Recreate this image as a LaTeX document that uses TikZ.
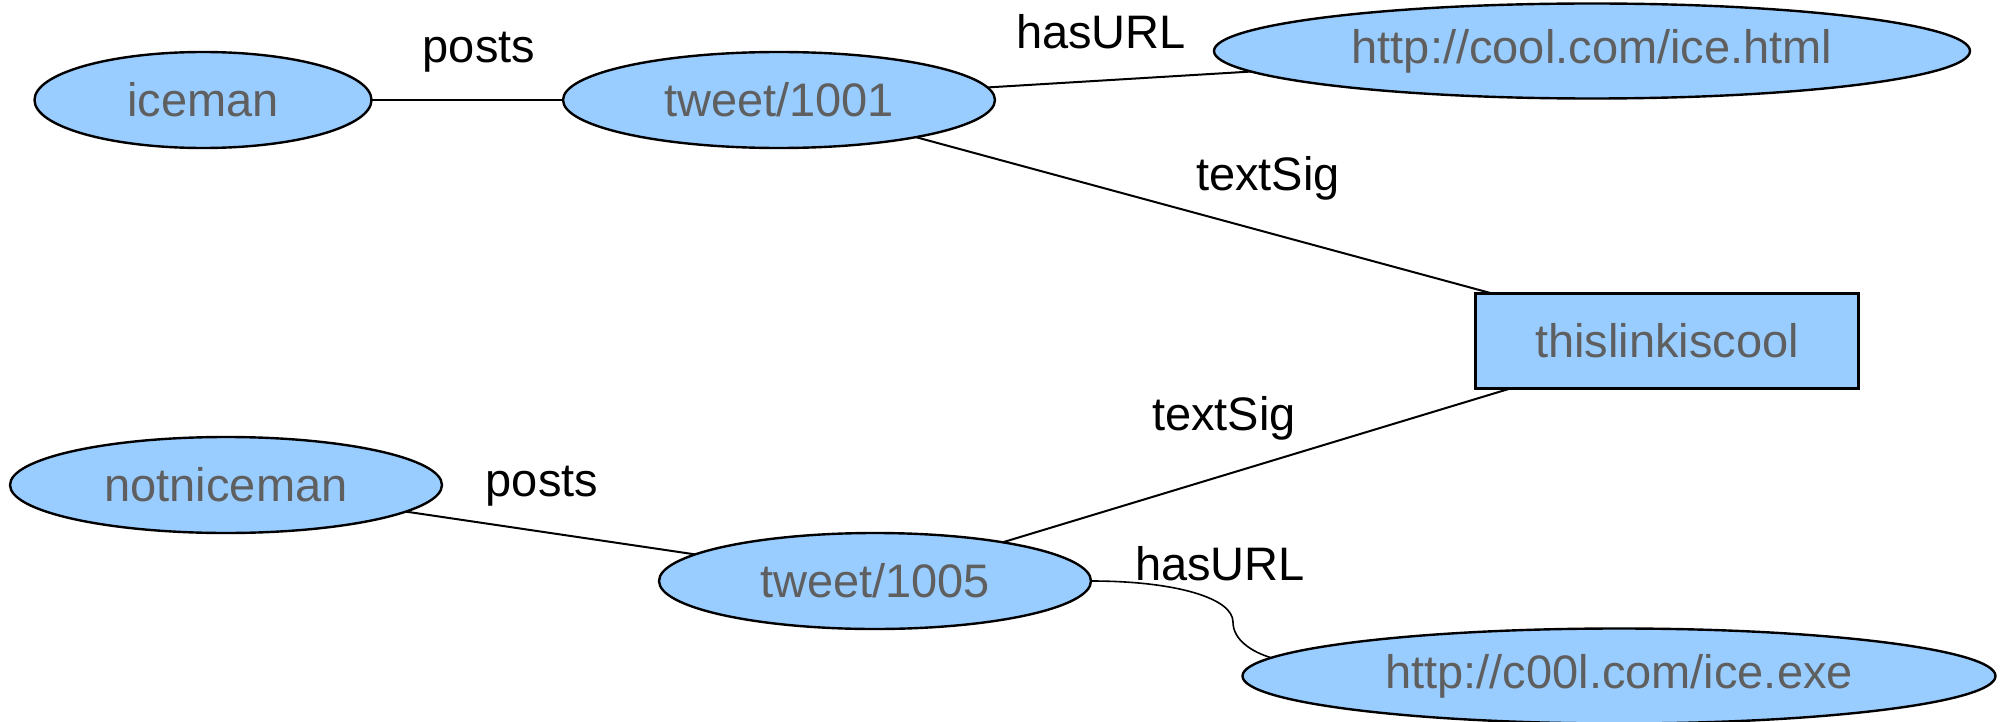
\documentclass[tikz,border=0pt]{standalone}
\usepackage{fontspec}
\setmainfont{Liberation Sans}
\usepackage{tikz}
\usetikzlibrary{shapes.geometric,positioning}
\definecolor{nodeblue}{HTML}{99CCFF}
\definecolor{nodetext}{HTML}{5F5F5F}
\tikzset
{
    resnode/.style   = {ellipse, draw=black, fill=nodeblue, text=nodetext, line width=1.2pt, inner sep=0pt, outer sep=0pt, minimum height=48pt, font=\fontsize{23.5}{28}\selectfont},
    litnode/.style   = {rectangle, draw=black, fill=nodeblue, text=nodetext, line width=1.2pt, inner sep=0pt, outer sep=0pt, minimum height=47.5pt, font=\fontsize{23.5}{28}\selectfont},
    edgelabel/.style = {anchor=base, text=black, inner sep=0pt, font=\fontsize{23.5}{28}\selectfont}
}

\begin{document}
\begin{tikzpicture}[x=0.5pt, y=-0.5pt, line width=1pt]
    \useasboundingbox (0,0) rectangle (2008,722);

    % resources and literal
    \node [resnode, minimum width=168.5pt] (iceman) at (203,100) {iceman};
    \node [resnode, minimum width=216pt] (tweeta) at (779,100) {tweet/1001};
    \node [resnode, minimum width=378pt, minimum height=47.5pt] (coolurl) at (1592,51) {http://cool.com/ice.html};
    \node [litnode, minimum width=191.5pt] (textsig) at (1667,341) {thislinkiscool};
    \node [resnode, minimum width=216pt] (notniceman) at (226,485) {notniceman};
    \node [resnode, minimum width=216pt] (tweetb) at (875,581) {tweet/1005};
    \node [resnode, minimum width=376.5pt, minimum height=47.5pt] (coolexe) at (1619,676) {http://c00l.com/ice.exe};

    % edges
    \draw (iceman) -- (tweeta);
    \draw (tweeta) -- (coolurl);
    \draw (tweeta) -- (textsig);
    \draw (textsig) -- (tweetb);
    \draw (notniceman) -- (tweetb);
    \coordinate (urlbend) at (1233,622);
    \draw [line width=0.8pt] (tweetb.east) .. controls (1175,581) and (1233,598) .. (urlbend)
        .. controls (1233,640) and (1252,652) .. (coolexe.177);

    % edge labels
    \node [edgelabel] (postsa) at (479,63) {posts};
    \node [edgelabel] (hasurla) at (1101,49) {hasURL};
    \node [edgelabel] (textsiga) at (1268,191) {textSig};
    \node [edgelabel] (textsigb) at (1224,430) {textSig};
    \node [edgelabel] (postsb) at (542,496) {posts};
    \node [edgelabel] (hasurlb) at (1220,580) {hasURL};
\end{tikzpicture}
\end{document}
